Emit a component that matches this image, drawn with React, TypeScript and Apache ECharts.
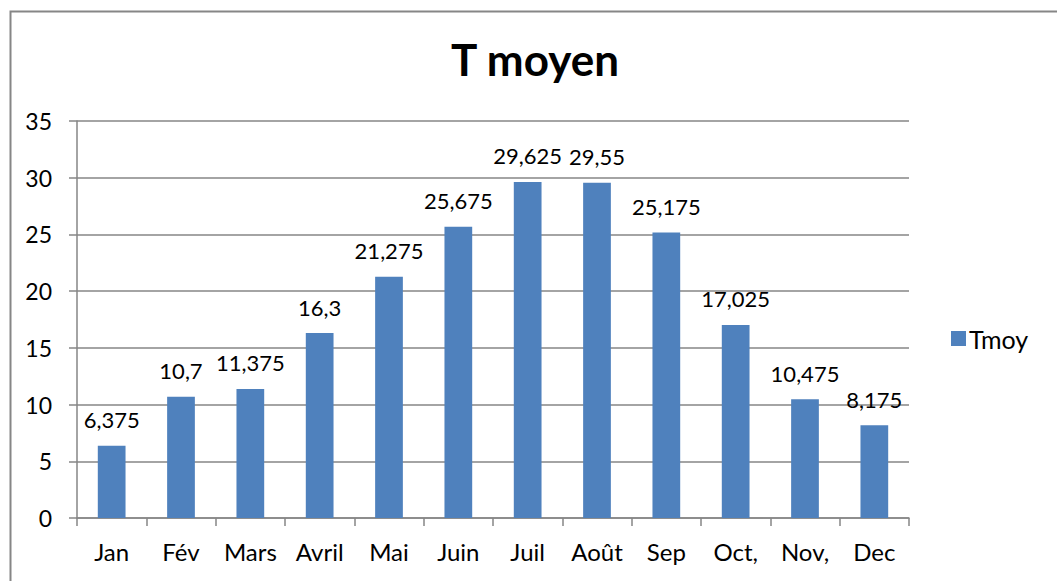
import React, { useEffect, useRef } from "react";
import * as echarts from "echarts";

const categories = ["Jan", "Fév", "Mars", "Avril", "Mai", "Juin", "Juil", "Août", "Sep", "Oct,", "Nov,", "Dec"];
const tmoy = [6.375, 10.7, 11.375, 16.3, 21.275, 25.675, 29.625, 29.55, 25.175, 17.025, 10.475, 8.175];
const seriesName = "Tmoy";
const titleText = "T moyen";

const FONT = "Lato, 'Open Sans', sans-serif";

export default function App() {
  const ref = useRef<HTMLDivElement>(null);
  useEffect(() => {
    if (!ref.current) return;
    const chart = echarts.init(ref.current, null, { renderer: "svg" });
    chart.setOption({
      animation: false,
      backgroundColor: "#ffffff",
      textStyle: { fontFamily: FONT },
      title: {
        text: titleText,
        left: 530,
        top: 32,
        textAlign: "center",
        textStyle: { fontSize: 44, fontWeight: "bold", color: "#000", fontFamily: FONT },
      },
      legend: {
        data: [seriesName],
        left: 946,
        top: 321,
        itemWidth: 15,
        itemHeight: 15,
        itemGap: 6,
        icon: "rect",
        textStyle: { fontSize: 25, color: "#000", fontFamily: FONT, padding: [0, 0, 0, -2] },
      },
      grid: { left: 77, right: 148, top: 121, bottom: 63, containLabel: false },
      xAxis: {
        type: "category",
        data: categories,
        boundaryGap: true,
        axisLine: { show: true, lineStyle: { color: "#868686", width: 1.5 } },
        axisTick: { show: true, length: 8, lineStyle: { color: "#868686", width: 1.5 }, alignWithLabel: false },
        axisLabel: { color: "#000", fontSize: 24, margin: 21, fontFamily: FONT, interval: 0 },
      },
      yAxis: {
        type: "value",
        min: 0,
        max: 35,
        interval: 5,
        axisLine: { show: true, lineStyle: { color: "#868686", width: 1.5 } },
        axisTick: { show: true, length: 8, lineStyle: { color: "#868686", width: 1.5 } },
        splitLine: { show: true, lineStyle: { color: "#868686", width: 1.5 } },
        axisLabel: { color: "#000", fontSize: 23, margin: 25, fontFamily: FONT },
      },
      series: [
        {
          name: seriesName,
          type: "bar",
          data: tmoy,
          barWidth: "40%",
          itemStyle: { color: "#4F81BD" },
          label: {
            show: true,
            position: "top",
            distance: 15,
            color: "#000",
            fontSize: 22,
            fontFamily: FONT,
            formatter: (p: any) => String(p.value).replace(".", ","),
          },
        },
      ],
      graphic: [
        {
          type: "rect",
          left: 8,
          top: 9,
          shape: { width: 1100, height: 620 },
          style: { fill: "none", stroke: "#868686", lineWidth: 2 },
          silent: true,
          z: -1,
        },
      ],
    });
    return () => chart.dispose();
  }, []);
  return <div ref={ref} style={{ position: "absolute", left: 0, top: 0, width: 1057, height: 581 }} />;
}
